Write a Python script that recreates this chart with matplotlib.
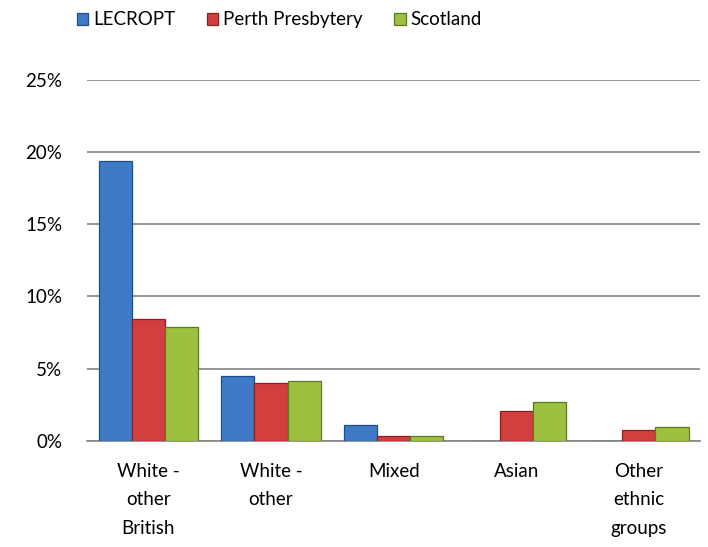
import matplotlib
matplotlib.use("Agg")
import matplotlib.pyplot as plt
import numpy as np

categories = ["White -\nother\nBritish", "White -\nother", "Mixed", "Asian", "Other\nethnic\ngroups"]
series_names = ["LECROPT", "Perth Presbytery", "Scotland"]
lecropt = [19.35, 4.5, 1.13, 0.0, 0.0]
perth = [8.43, 4.02, 0.34, 2.05, 0.74]
scotland = [7.88, 4.16, 0.33, 2.67, 0.94]
yticks = [0, 5, 10, 15, 20, 25]
ytick_labels = ["0%", "5%", "10%", "15%", "20%", "25%"]

colors = ["#3F7AC6", "#D23F3F", "#9CC13F"]
edges = ["#1F4E8C", "#8B1F1F", "#5A7A1F"]

plt.rcParams['font.family'] = ['Lato', 'DejaVu Sans']
fig = plt.figure(figsize=(7.08, 5.47), dpi=100)
ax = fig.add_axes([0.123, 0.194, 0.866, 0.66])

x = np.arange(len(categories))
w = 0.27
handles = []
for i, (vals, c, e, name) in enumerate(zip([lecropt, perth, scotland], colors, edges, series_names)):
    b = ax.bar(x + (i - 1) * w, vals, width=w, color=c, edgecolor=e, linewidth=0.9, label=name, zorder=3)
    handles.append(b)

ax.set_ylim(0, 25)
ax.set_xlim(-0.5, len(categories) - 0.5)
ax.set_yticks(yticks)
ax.set_yticklabels(ytick_labels, fontsize=13.5)
ax.set_xticks(x)
ax.set_xticklabels(categories, fontsize=13.5, linespacing=1.8, va='top')
ax.tick_params(axis='both', length=0)
ax.tick_params(axis='x', pad=16)
ax.tick_params(axis='y', pad=18)
ax.yaxis.grid(True, color="#8C8C8C", linewidth=1.3, zorder=0)
ax.set_axisbelow(True)
for s in ["top", "right", "left"]:
    ax.spines[s].set_visible(False)
ax.spines["bottom"].set_color("#8C8C8C")
ax.spines["bottom"].set_linewidth(1.3)

fig.legend(handles=handles, labels=series_names, loc="upper left", bbox_to_anchor=(0.085, 1.01),
           ncol=3, frameon=False, fontsize=13.5, handlelength=0.6, handleheight=0.6,
           handletextpad=0.25, columnspacing=1.7)

fig.savefig("out.png", dpi=100)
